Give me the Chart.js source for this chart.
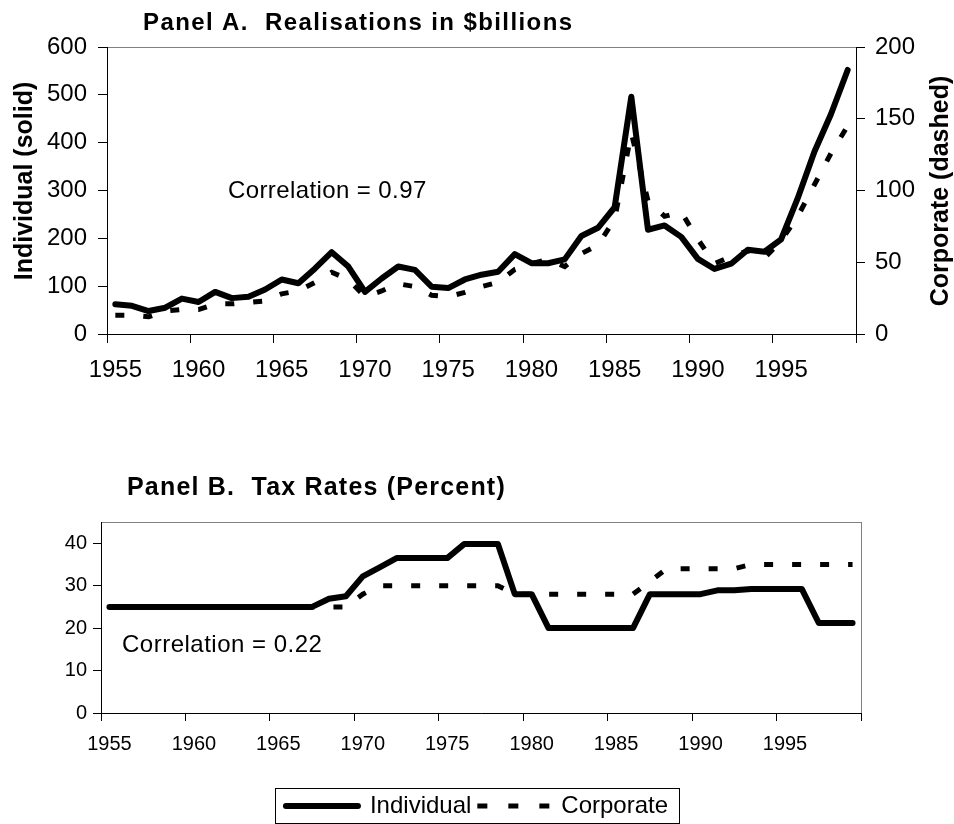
<!DOCTYPE html>
<html>
<head>
<meta charset="utf-8">
<script src="https://cdn.jsdelivr.net/npm/chart.js@4.4.1/dist/chart.umd.min.js"></script>
<style>
  html, body { margin: 0; padding: 0; background: #fff; overflow: hidden; }
  #panelA { position: absolute; left: 0; top: 0; }
  #panelB { position: absolute; left: 0; top: 400px; }
</style>
</head>
<body>
<canvas id="panelA" width="954" height="390"></canvas>
<canvas id="panelB" width="954" height="428"></canvas>
<script>
const years = ["1955", "1956", "1957", "1958", "1959", "1960", "1961", "1962", "1963", "1964",
  "1965", "1966", "1967", "1968", "1969", "1970", "1971", "1972", "1973", "1974",
  "1975", "1976", "1977", "1978", "1979", "1980", "1981", "1982", "1983", "1984",
  "1985", "1986", "1987", "1988", "1989", "1990", "1991", "1992", "1993", "1994",
  "1995", "1996", "1997", "1998", "1999"];

// Panel A: realisations, $billions
const indivGains = [62, 59, 48, 55, 74, 67, 88, 75, 78, 93,
  114, 106, 137, 171, 141, 88, 116, 141, 134, 99,
  96, 114, 124, 130, 167, 148, 148, 156, 205, 222,
  265, 496, 218, 227, 203, 157, 136, 147, 176, 172,
  198, 284, 381, 460, 552];
const corpGains = [13, 13, 12, 16, 17, 17, 21, 21, 22, 23,
  28, 30, 36, 43, 38, 26, 30, 35, 33, 27,
  26, 29, 33, 36, 45, 49, 52, 47, 56, 62,
  80, 140, 93, 82, 85, 66, 49, 54, 58, 53,
  65, 82, 104, 126, 145];

// Panel B: tax rates, percent
const indivRate = [25, 25, 25, 25, 25, 25, 25, 25, 25, 25,
  25, 25, 25, 26.9, 27.5, 32.2, 34.3, 36.5, 36.5, 36.5,
  36.5, 39.8, 39.8, 39.8, 28, 28, 20, 20, 20, 20,
  20, 20, 28, 28, 28, 28, 28.9, 28.9, 29.2, 29.2,
  29.2, 29.2, 21.2, 21.2, 21.2];
const corpRate = [25, 25, 25, 25, 25, 25, 25, 25, 25, 25,
  25, 25, 25, 25, 25, 28, 30, 30, 30, 30,
  30, 30, 30, 30, 28, 28, 28, 28, 28, 28,
  28, 28, 31, 34, 34, 34, 34, 34, 35, 35,
  35, 35, 35, 35, 35];

const FONT = '"Liberation Sans", Arial, Helvetica, sans-serif';
Chart.defaults.font.family = FONT;
Chart.defaults.color = '#000';

const solidStyle = { borderColor: '#000', backgroundColor: '#000', borderWidth: 6,
  borderCapStyle: 'round', borderJoinStyle: 'round', pointRadius: 0, tension: 0, fill: false };
const dashStyle = { borderColor: '#000', backgroundColor: '#000', borderWidth: 5,
  borderDash: [9, 19], borderCapStyle: 'butt', borderJoinStyle: 'miter', pointRadius: 0, tension: 0, fill: false };

// tick marks only every fifth year, between categories
const everyFifth = ctx => (ctx.type !== 'tick' || ctx.index % 5 === 0) ? '#000' : 'rgba(0,0,0,0)';

// extra texts: panel titles, rotated axis titles, correlation notes
function textLayer(id, items) {
  return {
    id: id,
    afterDraw(chart) {
      const ctx = chart.ctx;
      items.forEach(t => {
        ctx.save();
        ctx.font = t.font;
        ctx.fillStyle = '#000';
        ctx.textAlign = t.align || 'left';
        ctx.textBaseline = t.baseline || 'alphabetic';
        if ('letterSpacing' in ctx) ctx.letterSpacing = (t.spacing || 0) + 'px';
        ctx.translate(t.x, t.y);
        if (t.rotate) ctx.rotate(t.rotate);
        ctx.fillText(t.text, 0, 0);
        ctx.restore();
      });
    }
  };
}

// grey plot-area frame, axes are drawn over it in black
const plotFrame = {
  id: 'plotFrame',
  beforeDraw(chart) {
    const { ctx, chartArea: a } = chart;
    ctx.save();
    ctx.strokeStyle = '#808080';
    ctx.lineWidth = 1;
    ctx.strokeRect(Math.round(a.left) + 0.5, Math.round(a.top) + 0.5,
      Math.round(a.right - a.left), Math.round(a.bottom - a.top));
    ctx.restore();
  }
};

const legendFrame = {
  id: 'legendFrame',
  afterDraw(chart) {
    const lg = chart.legend;
    if (!lg || !lg.legendHitBoxes || !lg.legendHitBoxes.length) return;
    const hb = lg.legendHitBoxes;
    const x0 = hb[0].left - 11;
    const x1 = hb[hb.length - 1].left + hb[hb.length - 1].width + 11;
    const ctx = chart.ctx;
    ctx.save();
    ctx.strokeStyle = '#000';
    ctx.lineWidth = 1;
    ctx.strokeRect(Math.round(x0) + 0.5, Math.round(lg.top) + 0.5, Math.round(x1 - x0), 35);
    ctx.restore();
  }
};

new Chart(document.getElementById('panelA'), {
  type: 'line',
  data: {
    labels: years,
    datasets: [
      { label: 'Individual', data: indivGains, yAxisID: 'y', ...solidStyle },
      { label: 'Corporate', data: corpGains, yAxisID: 'y1', ...dashStyle }
    ]
  },
  options: {
    responsive: false,
    animation: false,
    events: [],
    layout: { padding: { top: 47, left: 0, right: 0, bottom: 0 } },
    plugins: { legend: { display: false }, tooltip: { enabled: false }, title: { display: false } },
    scales: {
      x: {
        type: 'category', offset: true,
        grid: { offset: true, drawOnChartArea: false, drawTicks: true, tickLength: 9, color: everyFifth, tickColor: everyFifth },
        border: { display: true, color: '#000', width: 1 },
        ticks: { autoSkip: false, maxRotation: 0, minRotation: 0, padding: 13, font: { size: 24 },
          callback: (v, i) => i % 5 === 0 ? years[i] : '' },
        afterFit: s => { s.height = 56; }
      },
      y: {
        position: 'left', min: 0, max: 600,
        ticks: { stepSize: 100, padding: 11, font: { size: 24 } },
        grid: { drawOnChartArea: false, tickLength: 9, color: '#000' },
        border: { display: true, color: '#000', width: 1 },
        afterFit: s => { s.width = 107; }
      },
      y1: {
        position: 'right', min: 0, max: 200,
        ticks: { stepSize: 50, padding: 10, font: { size: 24 } },
        grid: { drawOnChartArea: false, tickLength: 9, color: '#000' },
        border: { display: true, color: '#000', width: 1 },
        afterFit: s => { s.width = 98; }
      }
    }
  },
  plugins: [plotFrame, textLayer('textA', [
    { text: 'Panel A.  Realisations in $billions', x: 143, y: 30, font: 'bold 24px ' + FONT, spacing: 1.4 },
    { text: 'Correlation = 0.97', x: 228, y: 198, font: '24px ' + FONT, spacing: 0.4 },
    { text: 'Individual (solid)', x: 25, y: 181, font: 'bold 25px ' + FONT, align: 'center', baseline: 'middle', rotate: -Math.PI / 2 },
    { text: 'Corporate (dashed)', x: 941, y: 191, font: 'bold 25px ' + FONT, align: 'center', baseline: 'middle', rotate: -Math.PI / 2 }
  ])]
});

new Chart(document.getElementById('panelB'), {
  type: 'line',
  data: {
    labels: years,
    datasets: [
      { label: 'Individual', data: indivRate, ...solidStyle },
      { label: 'Corporate', data: corpRate, ...dashStyle }
    ]
  },
  options: {
    responsive: false,
    animation: false,
    events: [],
    layout: { padding: { top: 122, left: 0, right: 0, bottom: 0 } },
    plugins: {
      tooltip: { enabled: false },
      title: { display: false },
      legend: {
        display: true, position: 'bottom',
        labels: {
          usePointStyle: true, pointStyle: 'line', pointStyleWidth: 72, padding: 6,
          font: { size: 24 }, color: '#000',
          generateLabels: chart => {
            const items = Chart.defaults.plugins.legend.labels.generateLabels(chart);
            items.forEach(it => {
              const ds = chart.data.datasets[it.datasetIndex];
              it.lineWidth = ds.borderWidth;
              it.lineCap = ds.borderCapStyle;
              it.lineDash = ds.borderDash ? [10, 21] : [];
            });
            return items;
          }
        }
      }
    },
    scales: {
      x: {
        type: 'category', offset: true,
        grid: { offset: true, drawOnChartArea: false, drawTicks: true, tickLength: 8, color: everyFifth, tickColor: everyFifth },
        border: { display: true, color: '#000', width: 1 },
        ticks: { autoSkip: false, maxRotation: 0, minRotation: 0, padding: 11, font: { size: 20 },
          callback: (v, i) => i % 5 === 0 ? years[i] : '' },
        afterFit: s => { s.height = 75; }
      },
      y: {
        position: 'left', min: 0, max: 45,
        ticks: { stepSize: 10, includeBounds: false, padding: 6, font: { size: 20 } },
        grid: { drawOnChartArea: false, tickLength: 8, color: '#000' },
        border: { display: true, color: '#000', width: 1 },
        afterFit: s => { s.width = 101; }
      },
      // empty right margin so the legend stays centred on the page
      margin: {
        type: 'linear', position: 'right', display: true,
        ticks: { display: false }, grid: { display: false, drawTicks: false }, border: { display: false },
        afterFit: s => { s.width = 93; }
      }
    }
  },
  plugins: [plotFrame, legendFrame, textLayer('textB', [
    { text: 'Panel B.  Tax Rates (Percent)', x: 127, y: 95, font: 'bold 25px ' + FONT, spacing: 1.2 },
    { text: 'Correlation = 0.22', x: 122, y: 252, font: '24px ' + FONT, spacing: 0.5 }
  ])]
});
</script>
</body>
</html>
